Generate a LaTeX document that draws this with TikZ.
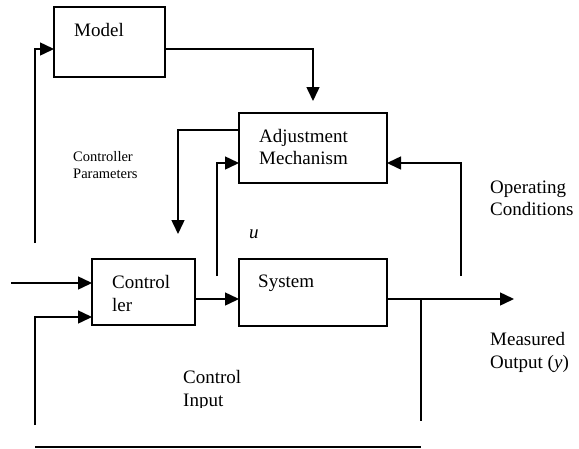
\documentclass[tikz,border=0pt]{standalone}
\usepackage{fontspec}
\setmainfont{Liberation Serif}
\usetikzlibrary{arrows.meta}
\begin{document}
\begin{tikzpicture}[x=1pt,y=-1pt,
  box/.style={draw,line width=1.5pt,inner sep=0pt,outer sep=0pt},
  ln/.style={line width=1.5pt},
  arr/.style={line width=1.5pt,-{Triangle[length=14pt,width=13pt]}},
  lbl/.style={anchor=base west,inner sep=0pt,font=\fontsize{19}{22}\selectfont},
  sml/.style={anchor=base west,inner sep=0pt,font=\fontsize{14.5}{17}\selectfont}]
\useasboundingbox (0,0) rectangle (579,448);
% boxes
\node[box,minimum width=111pt,minimum height=70pt] (model) at (109.5,42) {};
\node[box,minimum width=148pt,minimum height=70pt] (adj) at (313,148) {};
\node[box,minimum width=103pt,minimum height=66pt] (ctrl) at (143.5,292) {};
\node[box,minimum width=148pt,minimum height=67pt] (sys) at (313,292.5) {};
% texts
\node[lbl] (tmodel) at (74,36) {Model};
\node[lbl] (tadj1) at (259,142) {Adjustment};
\node[lbl] (tadj2) at (259,164) {Mechanism};
\node[lbl] (tctrl1) at (112,288) {Control};
\node[lbl] (tctrl2) at (112,311) {ler};
\node[lbl] (tsys) at (258,287) {System};
\node[lbl] (tu) at (249,238) {\itshape u};
\node[lbl] (top1) at (490,193) {Operating};
\node[lbl] (top2) at (490,215) {Conditions};
\node[lbl] (tme1) at (490,345) {Measured};
\node[lbl] (tme2) at (490,368) {Output (\textit{y})};
\node[lbl] (tci1) at (183,383) {Control};
\begin{scope}
\clip (150,380) rectangle (260,407);
\node[lbl] (tci2) at (183,406) {Input};
\end{scope}
\node[sml] (tcp1) at (73,161) {Controller};
\node[sml] (tcp2) at (73,178) {Parameters};
% free ends
\coordinate (a1) at (35,243);
\coordinate (m1) at (313,49);
\coordinate (m2) at (313,101);
\coordinate (p1) at (178,130);
\coordinate (p2) at (178,234);
\coordinate (u1) at (217,276);
\coordinate (u2) at (217,163);
\coordinate (o1) at (461,276);
\coordinate (o2) at (461,163);
\coordinate (i1) at (11,283);
\coordinate (i2) at (35,425);
\coordinate (i3) at (35,317);
\coordinate (y1) at (514,299);
\coordinate (b1) at (421,299);
\coordinate (b2) at (421,421);
\coordinate (c1) at (35,447);
\coordinate (c2) at (421,447);
% connectors
\draw[arr] (a1) |- (model.west |- 0,49);
\draw[arr] (model.east |- m1) -- (m1) -- (m2);
\draw[arr] (adj.west |- p1) -| (p2);
\draw[arr] (u1) -- (u2) -- (adj.west |- u2);
\draw[arr] (o1) -- (o2) -- (adj.east |- o2);
\draw[arr] (i1) -- (ctrl.west |- i1);
\draw[arr] (i2) -- (i3) -- (ctrl.west |- i3);
\draw[arr] (ctrl.east |- 0,299) -- (sys.west |- 0,299);
\draw[arr] (sys.east |- 0,299) -- (y1);
\draw[ln] (b1) -- (b2);
\draw[ln] (c1) -- (c2);
\end{tikzpicture}
\end{document}
